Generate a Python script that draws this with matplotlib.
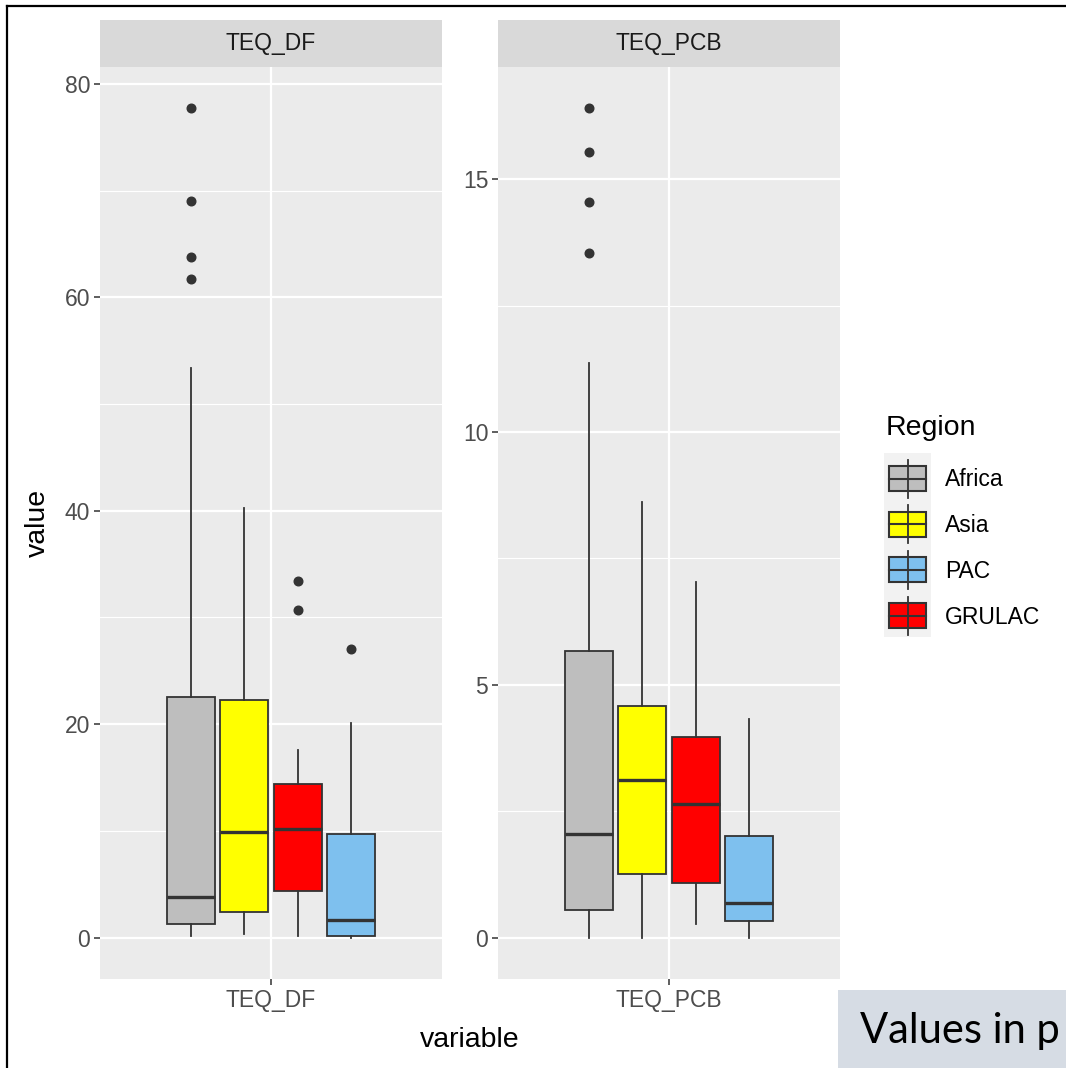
import matplotlib
matplotlib.use('Agg')
import matplotlib.pyplot as plt
from matplotlib.patches import Rectangle
from matplotlib.lines import Line2D
from matplotlib.ticker import MultipleLocator

plt.rcParams['font.family'] = ['Liberation Sans', 'DejaVu Sans']

# data
regions = ['Africa', 'Asia', 'GRULAC', 'PAC']
region_colors = ['#BEBEBE', '#FFFF00', '#FF0000', '#7EC0EE']
legend_order = ['Africa', 'Asia', 'PAC', 'GRULAC']
variables = ['TEQ_DF', 'TEQ_PCB']

df_whislo = [0.1, 0.3, 0.1, 0.0]
df_q1 = [1.3, 2.4, 4.4, 0.15]
df_med = [3.8, 9.9, 10.2, 1.6]
df_q3 = [22.5, 22.3, 14.4, 9.7]
df_whishi = [53.4, 40.3, 17.6, 20.1]
df_fliers = [[77.7, 69.0, 63.8, 61.7], [], [33.4, 30.7], [27.0]]

pcb_whislo = [0.0, 0.0, 0.26, 0.0]
pcb_q1 = [0.54, 1.25, 1.07, 0.32]
pcb_med = [2.04, 3.11, 2.64, 0.69]
pcb_q3 = [5.67, 4.58, 3.96, 2.0]
pcb_whishi = [11.37, 8.62, 7.03, 4.32]
pcb_fliers = [[16.4, 15.53, 14.54, 13.55], [], [], []]

W, H = 1066, 1068
fig = plt.figure(figsize=(W / 100, H / 100), dpi=100)


def rect(x0, y0, x1, y1):
    # pixel box (top-left origin) -> figure fraction
    return [x0 / W, 1 - y1 / H, (x1 - x0) / W, (y1 - y0) / H]


def draw_panel(x0, x1, name, whislo, q1, med, q3, whishi, fliers, major, minor):
    ax = fig.add_axes(rect(x0, 67, x1, 979))
    ax.set_facecolor('#EBEBEB')
    for s in ax.spines.values():
        s.set_visible(False)
    stats = []
    for i in range(len(regions)):
        stats.append(dict(whislo=whislo[i], q1=q1[i], med=med[i], q3=q3[i],
                          whishi=whishi[i], fliers=fliers[i]))
    step = 0.75 / len(regions)
    pos = [1 + (i - 1.5) * step for i in range(len(regions))]
    bp = ax.bxp(stats, positions=pos, widths=step * 0.9, patch_artist=True,
                showcaps=False, manage_ticks=False,
                boxprops=dict(edgecolor='#333333', linewidth=1.3),
                medianprops=dict(color='#333333', linewidth=2.4),
                whiskerprops=dict(color='#333333', linewidth=1.3),
                flierprops=dict(marker='o', markerfacecolor='#333333',
                                markeredgecolor='#333333', markersize=6.2))
    for patch, c in zip(bp['boxes'], region_colors):
        patch.set_facecolor(c)
    allv = whislo + whishi + sum(fliers, [])
    lo, hi = min(allv), max(allv)
    pad = 0.05 * (hi - lo)
    ax.set_ylim(lo - pad, hi + pad)
    ax.set_xlim(0.4, 1.6)
    ax.yaxis.set_major_locator(MultipleLocator(major))
    ax.yaxis.set_minor_locator(MultipleLocator(minor))
    ax.set_xticks([1])
    ax.set_xticklabels([name])
    ax.set_axisbelow(True)
    ax.grid(True, which='major', color='white', linewidth=1.6)
    ax.grid(True, which='minor', axis='y', color='white', linewidth=0.8)
    ax.tick_params(axis='both', which='major', length=4, width=1.1, color='#333333',
                   labelcolor='#4D4D4D', labelsize=16.5, pad=3)
    ax.tick_params(axis='y', which='minor', length=0)
    ax.yaxis.set_major_formatter(matplotlib.ticker.FormatStrFormatter('%g'))

    sax = fig.add_axes(rect(x0, 20, x1, 67))
    sax.set_facecolor('#D9D9D9')
    sax.set_xticks([])
    sax.set_yticks([])
    for s in sax.spines.values():
        s.set_visible(False)
    sax.text(0.5, 0.5, name, ha='center', va='center', fontsize=16.5,
             color='#1A1A1A', transform=sax.transAxes)
    return ax


draw_panel(100, 442, variables[0], df_whislo, df_q1, df_med, df_q3, df_whishi,
           df_fliers, 20, 10)
draw_panel(498, 840, variables[1], pcb_whislo, pcb_q1, pcb_med, pcb_q3, pcb_whishi,
           pcb_fliers, 5, 2.5)

fig.text(38 / W, 1 - 523 / H, 'value', rotation=90, ha='center', va='center', fontsize=20.5)
fig.text(470 / W, 1 - 1040 / H, 'variable', ha='center', va='center', fontsize=20.5)

# legend
fig.text(886 / W, 1 - 428 / H, 'Region', ha='left', va='center', fontsize=20.5)
lax = fig.add_axes(rect(884, 453, 931, 637))
lax.set_xlim(884, 931)
lax.set_ylim(637, 453)
lax.set_facecolor('#F2F2F2')
lax.set_xticks([])
lax.set_yticks([])
for s in lax.spines.values():
    s.set_visible(False)
for k, r in enumerate(legend_order):
    c = region_colors[regions.index(r)]
    cy = 478.5 + 45.7 * k
    lax.add_line(Line2D([907.5, 907.5], [cy - 19, cy + 19], color='#333333', linewidth=1.3))
    lax.add_patch(Rectangle((889, cy - 12.5), 37, 25, facecolor=c, edgecolor='#333333',
                            linewidth=1.5))
    lax.add_line(Line2D([889, 926], [cy, cy], color='#333333', linewidth=1.5))
    fig.text(945 / W, 1 - (cy + 8) / H, r, ha='left', va='baseline', fontsize=16.5)

# outer frame of the screenshot
fig.add_artist(Line2D([7 / W, 1], [1 - 6 / H, 1 - 6 / H], color='black', linewidth=1.6))
fig.add_artist(Line2D([7 / W, 7 / W], [0, 1 - 6 / H], color='black', linewidth=1.6))

# slide text box at the lower right
fig.add_artist(Rectangle((838 / W, 0), (W - 838) / W, (1068 - 990) / H,
                         facecolor='#D6DCE4', edgecolor='none', transform=fig.transFigure))
fig.text(860 / W, 1 - 1043 / H, 'Values in p', ha='left', va='baseline', fontsize=30,
         family=['Lato', 'DejaVu Sans'], color='black')

fig.savefig('out.png', dpi=100)
